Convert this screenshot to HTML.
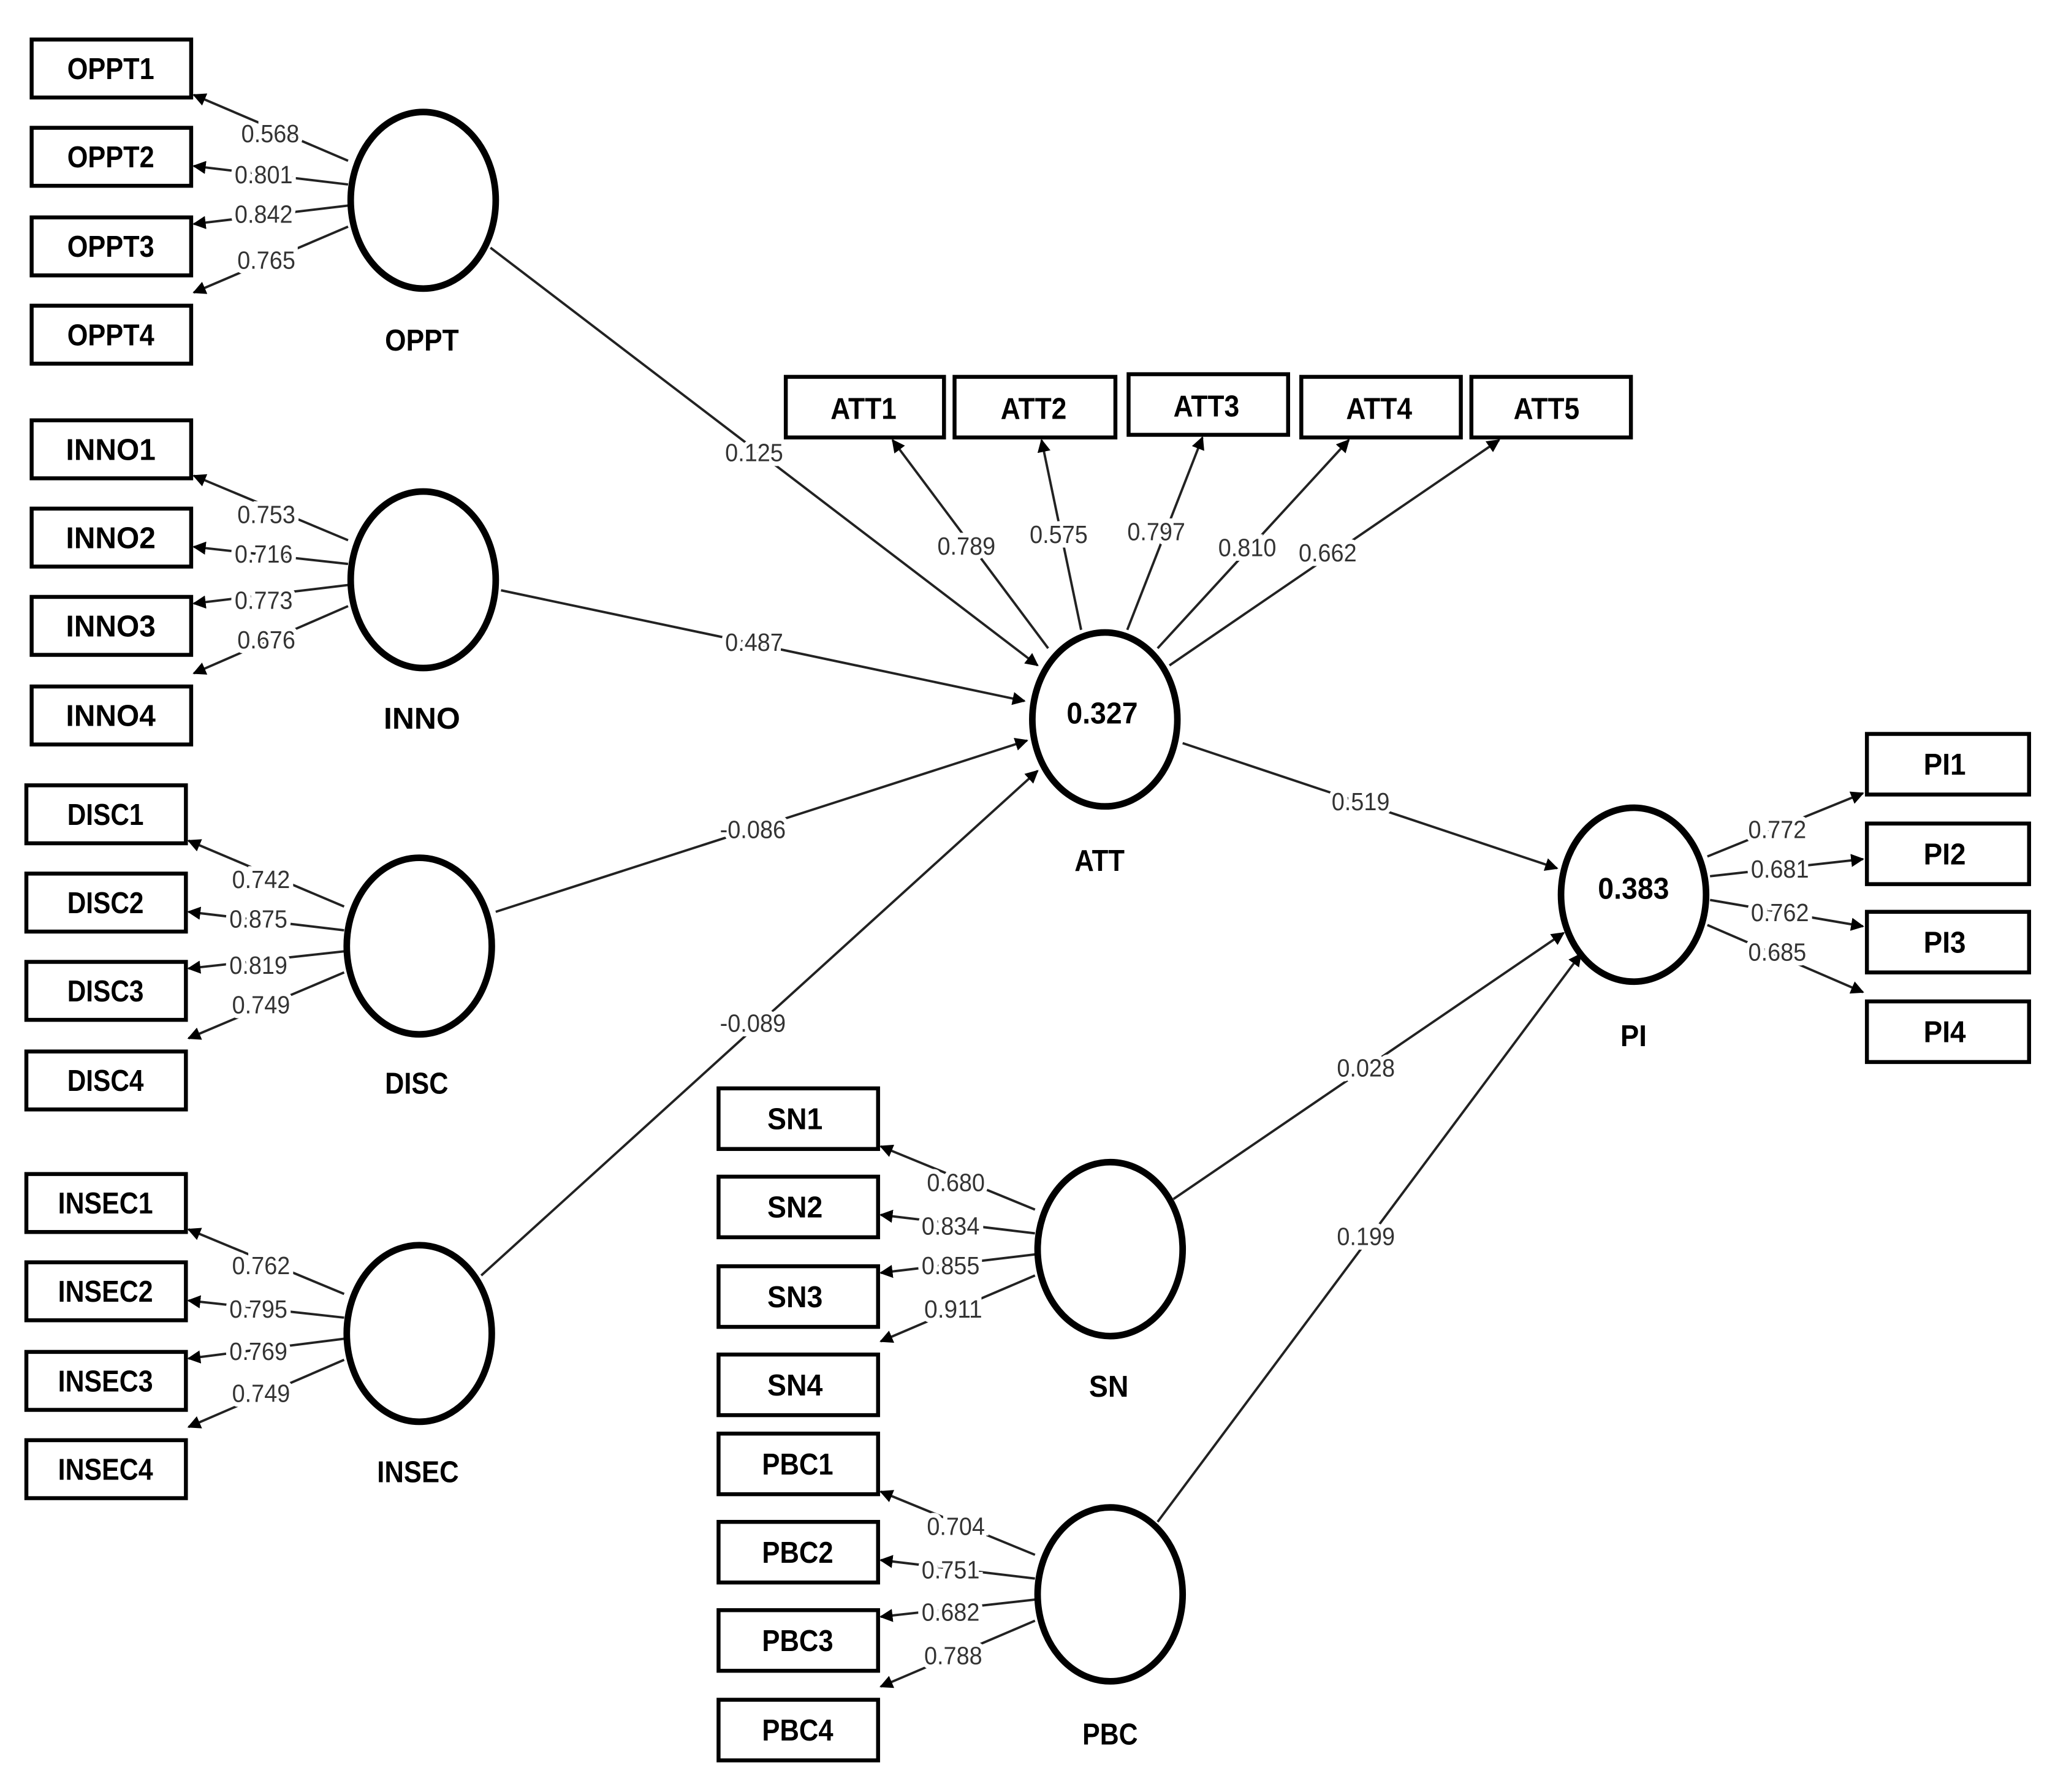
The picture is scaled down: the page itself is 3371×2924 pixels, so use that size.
<!DOCTYPE html>
<html><head><meta charset="utf-8"><style>
html,body{margin:0;padding:0;background:#fff}
svg{display:block}
.b{fill:#fff;stroke:#000;stroke-width:3}
.bt{font-family:"Liberation Sans",sans-serif;font-weight:bold;font-size:23px;text-anchor:middle;fill:#000}
.c{fill:#fff;stroke:#000;stroke-width:5}
.l{stroke:#222;stroke-width:1.8;fill:none}
.n{font-family:"Liberation Sans",sans-serif;font-size:19px;text-anchor:middle;fill:#333;paint-order:stroke;stroke:#fff;stroke-width:7px}
.lv{font-family:"Liberation Sans",sans-serif;font-weight:bold;font-size:23px;text-anchor:middle;fill:#000}
</style></head><body>
<svg width="3371" height="2924" viewBox="0 0 1567 1360" preserveAspectRatio="none" xmlns="http://www.w3.org/2000/svg">
<defs><marker id="a" viewBox="0 0 10 10" refX="9" refY="5" markerWidth="10" markerHeight="10" markerUnits="userSpaceOnUse" orient="auto"><path d="M0,0 L10,5 L0,10 z" fill="#000"/></marker></defs>
<g class="l" marker-end="url(#a)">
<line x1="264" y1="122" x2="147" y2="72"/><line x1="264" y1="140" x2="147" y2="126"/><line x1="264" y1="156" x2="147" y2="170"/><line x1="264" y1="172" x2="147" y2="222"/>
<line x1="264" y1="410" x2="147" y2="361"/><line x1="264" y1="428" x2="147" y2="415"/><line x1="264" y1="444" x2="147" y2="458"/><line x1="264" y1="460" x2="147" y2="511"/>
<line x1="261" y1="688" x2="143" y2="638"/><line x1="261" y1="706" x2="143" y2="692"/><line x1="261" y1="722" x2="143" y2="735"/><line x1="261" y1="738" x2="143" y2="788"/>
<line x1="261" y1="982" x2="143" y2="933"/><line x1="261" y1="1000" x2="143" y2="987"/><line x1="261" y1="1016" x2="143" y2="1031"/><line x1="261" y1="1032" x2="143" y2="1083"/>
<line x1="785" y1="918" x2="668" y2="870"/><line x1="785" y1="936" x2="668" y2="922"/><line x1="785" y1="952" x2="668" y2="966"/><line x1="785" y1="968" x2="668" y2="1018"/>
<line x1="785" y1="1180" x2="668" y2="1132"/><line x1="785" y1="1198" x2="668" y2="1184"/><line x1="785" y1="1214" x2="668" y2="1227"/><line x1="785" y1="1230" x2="668" y2="1280"/>
<line x1="372" y1="188" x2="787" y2="505"/><line x1="380" y1="448" x2="777" y2="532"/><line x1="376" y1="692" x2="779" y2="562"/><line x1="365" y1="968" x2="787" y2="585"/>
<line x1="897" y1="564" x2="1181" y2="659"/><line x1="890" y1="910" x2="1186" y2="708"/><line x1="878" y1="1155" x2="1199" y2="724"/>
<line x1="795" y1="492" x2="677" y2="334"/><line x1="820" y1="478" x2="790" y2="334"/><line x1="855" y1="478" x2="912" y2="332"/><line x1="878" y1="492" x2="1023" y2="334"/><line x1="887" y1="505" x2="1137" y2="334"/>
<line x1="1295" y1="650" x2="1413" y2="602"/><line x1="1297" y1="665" x2="1413" y2="652"/><line x1="1297" y1="683" x2="1413" y2="703"/><line x1="1295" y1="702" x2="1413" y2="753"/>
</g>
<g class="n">
<text x="205" y="108" textLength="44" lengthAdjust="spacingAndGlyphs">0.568</text><text x="200" y="139" textLength="44" lengthAdjust="spacingAndGlyphs">0.801</text><text x="200" y="169" textLength="44" lengthAdjust="spacingAndGlyphs">0.842</text><text x="202" y="204" textLength="44" lengthAdjust="spacingAndGlyphs">0.765</text>
<text x="202" y="397" textLength="44" lengthAdjust="spacingAndGlyphs">0.753</text><text x="200" y="427" textLength="44" lengthAdjust="spacingAndGlyphs">0.716</text><text x="200" y="462" textLength="44" lengthAdjust="spacingAndGlyphs">0.773</text><text x="202" y="492" textLength="44" lengthAdjust="spacingAndGlyphs">0.676</text>
<text x="198" y="674" textLength="44" lengthAdjust="spacingAndGlyphs">0.742</text><text x="196" y="704" textLength="44" lengthAdjust="spacingAndGlyphs">0.875</text><text x="196" y="739" textLength="44" lengthAdjust="spacingAndGlyphs">0.819</text><text x="198" y="769" textLength="44" lengthAdjust="spacingAndGlyphs">0.749</text>
<text x="198" y="967" textLength="44" lengthAdjust="spacingAndGlyphs">0.762</text><text x="196" y="1000" textLength="44" lengthAdjust="spacingAndGlyphs">0.795</text><text x="196" y="1032" textLength="44" lengthAdjust="spacingAndGlyphs">0.769</text><text x="198" y="1064" textLength="44" lengthAdjust="spacingAndGlyphs">0.749</text>
<text x="725" y="904" textLength="44" lengthAdjust="spacingAndGlyphs">0.680</text><text x="721" y="937" textLength="44" lengthAdjust="spacingAndGlyphs">0.834</text><text x="721" y="967" textLength="44" lengthAdjust="spacingAndGlyphs">0.855</text><text x="723" y="1000" textLength="44" lengthAdjust="spacingAndGlyphs">0.911</text>
<text x="725" y="1165" textLength="44" lengthAdjust="spacingAndGlyphs">0.704</text><text x="721" y="1198" textLength="44" lengthAdjust="spacingAndGlyphs">0.751</text><text x="721" y="1230" textLength="44" lengthAdjust="spacingAndGlyphs">0.682</text><text x="723" y="1263" textLength="44" lengthAdjust="spacingAndGlyphs">0.788</text>
<text x="572" y="350" textLength="44" lengthAdjust="spacingAndGlyphs">0.125</text><text x="572" y="494" textLength="44" lengthAdjust="spacingAndGlyphs">0.487</text><text x="571" y="636" textLength="50" lengthAdjust="spacingAndGlyphs">-0.086</text><text x="571" y="783" textLength="50" lengthAdjust="spacingAndGlyphs">-0.089</text>
<text x="1032" y="615" textLength="44" lengthAdjust="spacingAndGlyphs">0.519</text><text x="1036" y="817" textLength="44" lengthAdjust="spacingAndGlyphs">0.028</text><text x="1036" y="945" textLength="44" lengthAdjust="spacingAndGlyphs">0.199</text>
<text x="733" y="421" textLength="44" lengthAdjust="spacingAndGlyphs">0.789</text><text x="803" y="412" textLength="44" lengthAdjust="spacingAndGlyphs">0.575</text><text x="877" y="410" textLength="44" lengthAdjust="spacingAndGlyphs">0.797</text><text x="946" y="422" textLength="44" lengthAdjust="spacingAndGlyphs">0.810</text><text x="1007" y="426" textLength="44" lengthAdjust="spacingAndGlyphs">0.662</text>
<text x="1348" y="636" textLength="44" lengthAdjust="spacingAndGlyphs">0.772</text><text x="1350" y="666" textLength="44" lengthAdjust="spacingAndGlyphs">0.681</text><text x="1350" y="699" textLength="44" lengthAdjust="spacingAndGlyphs">0.762</text><text x="1348" y="729" textLength="44" lengthAdjust="spacingAndGlyphs">0.685</text>
</g>
<g>
<rect class="b" x="24" y="30" width="121" height="44"/><rect class="b" x="24" y="97" width="121" height="44"/><rect class="b" x="24" y="165" width="121" height="44"/><rect class="b" x="24" y="232" width="121" height="44"/>
<rect class="b" x="24" y="319" width="121" height="44"/><rect class="b" x="24" y="386" width="121" height="44"/><rect class="b" x="24" y="453" width="121" height="44"/><rect class="b" x="24" y="521" width="121" height="44"/>
<rect class="b" x="20" y="596" width="121" height="44"/><rect class="b" x="20" y="663" width="121" height="44"/><rect class="b" x="20" y="730" width="121" height="44"/><rect class="b" x="20" y="798" width="121" height="44"/>
<rect class="b" x="20" y="891" width="121" height="44"/><rect class="b" x="20" y="958" width="121" height="44"/><rect class="b" x="20" y="1026" width="121" height="44"/><rect class="b" x="20" y="1093" width="121" height="44"/>
<rect class="b" x="545" y="826" width="121" height="46"/><rect class="b" x="545" y="893" width="121" height="46"/><rect class="b" x="545" y="961" width="121" height="46"/><rect class="b" x="545" y="1028" width="121" height="46"/>
<rect class="b" x="545" y="1088" width="121" height="46"/><rect class="b" x="545" y="1155" width="121" height="46"/><rect class="b" x="545" y="1222" width="121" height="46"/><rect class="b" x="545" y="1290" width="121" height="46"/>
<rect class="b" x="596" y="286" width="120" height="46"/><rect class="b" x="724" y="286" width="122" height="46"/><rect class="b" x="856" y="284" width="121" height="46"/><rect class="b" x="987" y="286" width="121" height="46"/><rect class="b" x="1116" y="286" width="121" height="46"/>
<rect class="b" x="1416" y="557" width="123" height="46"/><rect class="b" x="1416" y="625" width="123" height="46"/><rect class="b" x="1416" y="692" width="123" height="46"/><rect class="b" x="1416" y="760" width="123" height="46"/>
</g>
<g class="bt">
<text x="84" y="60" textLength="66" lengthAdjust="spacingAndGlyphs">OPPT1</text><text x="84" y="127" textLength="66" lengthAdjust="spacingAndGlyphs">OPPT2</text><text x="84" y="195" textLength="66" lengthAdjust="spacingAndGlyphs">OPPT3</text><text x="84" y="262" textLength="66" lengthAdjust="spacingAndGlyphs">OPPT4</text>
<text x="84" y="349" textLength="68" lengthAdjust="spacingAndGlyphs">INNO1</text><text x="84" y="416" textLength="68" lengthAdjust="spacingAndGlyphs">INNO2</text><text x="84" y="483" textLength="68" lengthAdjust="spacingAndGlyphs">INNO3</text><text x="84" y="551" textLength="68" lengthAdjust="spacingAndGlyphs">INNO4</text>
<text x="80" y="626" textLength="58" lengthAdjust="spacingAndGlyphs">DISC1</text><text x="80" y="693" textLength="58" lengthAdjust="spacingAndGlyphs">DISC2</text><text x="80" y="760" textLength="58" lengthAdjust="spacingAndGlyphs">DISC3</text><text x="80" y="828" textLength="58" lengthAdjust="spacingAndGlyphs">DISC4</text>
<text x="80" y="921" textLength="72" lengthAdjust="spacingAndGlyphs">INSEC1</text><text x="80" y="988" textLength="72" lengthAdjust="spacingAndGlyphs">INSEC2</text><text x="80" y="1056" textLength="72" lengthAdjust="spacingAndGlyphs">INSEC3</text><text x="80" y="1123" textLength="72" lengthAdjust="spacingAndGlyphs">INSEC4</text>
<text x="603" y="857" textLength="42" lengthAdjust="spacingAndGlyphs">SN1</text><text x="603" y="924" textLength="42" lengthAdjust="spacingAndGlyphs">SN2</text><text x="603" y="992" textLength="42" lengthAdjust="spacingAndGlyphs">SN3</text><text x="603" y="1059" textLength="42" lengthAdjust="spacingAndGlyphs">SN4</text>
<text x="605" y="1119" textLength="54" lengthAdjust="spacingAndGlyphs">PBC1</text><text x="605" y="1186" textLength="54" lengthAdjust="spacingAndGlyphs">PBC2</text><text x="605" y="1253" textLength="54" lengthAdjust="spacingAndGlyphs">PBC3</text><text x="605" y="1321" textLength="54" lengthAdjust="spacingAndGlyphs">PBC4</text>
<text x="655" y="318" textLength="50" lengthAdjust="spacingAndGlyphs">ATT1</text><text x="784" y="318" textLength="50" lengthAdjust="spacingAndGlyphs">ATT2</text><text x="915" y="316" textLength="50" lengthAdjust="spacingAndGlyphs">ATT3</text><text x="1046" y="318" textLength="50" lengthAdjust="spacingAndGlyphs">ATT4</text><text x="1173" y="318" textLength="50" lengthAdjust="spacingAndGlyphs">ATT5</text>
<text x="1475" y="588" textLength="32" lengthAdjust="spacingAndGlyphs">PI1</text><text x="1475" y="656" textLength="32" lengthAdjust="spacingAndGlyphs">PI2</text><text x="1475" y="723" textLength="32" lengthAdjust="spacingAndGlyphs">PI3</text><text x="1475" y="791" textLength="32" lengthAdjust="spacingAndGlyphs">PI4</text>
</g>
<g>
<ellipse class="c" cx="321" cy="152" rx="55" ry="67"/><ellipse class="c" cx="321" cy="440" rx="55" ry="67"/><ellipse class="c" cx="318" cy="718" rx="55" ry="67"/><ellipse class="c" cx="318" cy="1012" rx="55" ry="67"/>
<ellipse class="c" cx="838" cy="546" rx="55" ry="66"/><ellipse class="c" cx="1239" cy="679" rx="55" ry="66"/><ellipse class="c" cx="842" cy="948" rx="55" ry="66"/><ellipse class="c" cx="842" cy="1210" rx="55" ry="66"/>
</g>
<g class="lv">
<text x="836" y="549" textLength="54" lengthAdjust="spacingAndGlyphs">0.327</text><text x="1239" y="682" textLength="54" lengthAdjust="spacingAndGlyphs">0.383</text>
<text x="320" y="266" textLength="56" lengthAdjust="spacingAndGlyphs">OPPT</text><text x="320" y="553" textLength="58" lengthAdjust="spacingAndGlyphs">INNO</text><text x="316" y="830" textLength="48" lengthAdjust="spacingAndGlyphs">DISC</text><text x="317" y="1125" textLength="62" lengthAdjust="spacingAndGlyphs">INSEC</text>
<text x="834" y="661" textLength="38" lengthAdjust="spacingAndGlyphs">ATT</text><text x="1239" y="794" textLength="20" lengthAdjust="spacingAndGlyphs">PI</text><text x="841" y="1060" textLength="30" lengthAdjust="spacingAndGlyphs">SN</text><text x="842" y="1324" textLength="42" lengthAdjust="spacingAndGlyphs">PBC</text>
</g>
</svg>
</body></html>
